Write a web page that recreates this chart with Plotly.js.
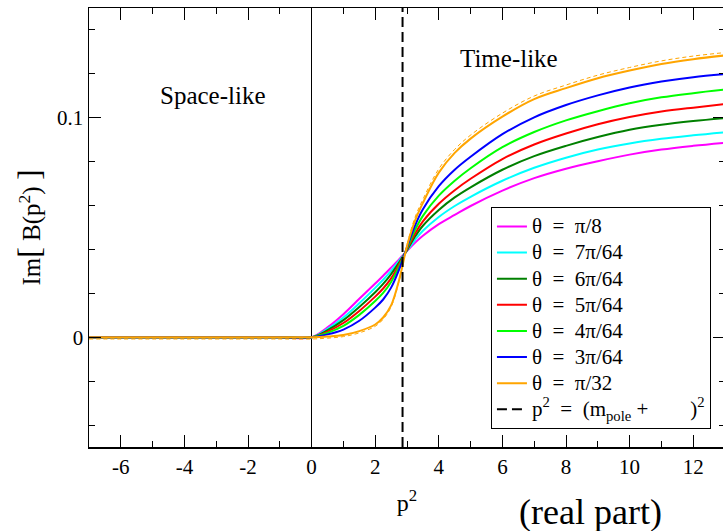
<!DOCTYPE html>
<html><head><meta charset="utf-8">
<script src="https://cdn.plot.ly/plotly-3.0.1.min.js"></script>
<style>html,body{margin:0;padding:0;overflow:hidden;background:#fff}#chart{width:730px;height:531px}</style>
</head><body><div id="chart"></div><script>
// p^2 (real part) sample points
const p2 = [-7, -1, 0, 0.5, 1, 1.5, 2, 2.25, 2.5, 2.75, 3, 3.25, 3.5, 4, 4.5, 5, 6, 7, 8, 9, 10, 11, 12, 13];
// Im[B(p^2)] for each theta
const thetaPi8   = [0,0,0,0.0045,0.0105,0.0175,0.0245,0.028,0.0317,0.0355,0.0393,0.043,0.0462,0.0515,0.0557,0.0598,0.0668,0.0725,0.0768,0.0802,0.0832,0.0855,0.0872,0.0886];
const theta7Pi64 = [0,0,0,0.0038,0.009,0.0155,0.0225,0.0262,0.0302,0.0348,0.0395,0.0443,0.0485,0.0548,0.0598,0.064,0.0713,0.0772,0.0818,0.0855,0.0883,0.0904,0.092,0.0934];
const theta6Pi64 = [0,0,0,0.0032,0.0078,0.0138,0.0205,0.0243,0.0288,0.034,0.0397,0.0458,0.0508,0.058,0.0637,0.0683,0.0763,0.0825,0.0872,0.0912,0.0945,0.0968,0.0985,0.0999];
const theta5Pi64 = [0,0,0,0.0026,0.0065,0.012,0.0185,0.0222,0.0268,0.0332,0.040,0.0472,0.0528,0.0608,0.067,0.0722,0.0812,0.0878,0.0928,0.097,0.1003,0.1028,0.1046,0.1062];
const theta4Pi64 = [0,0,0,0.002,0.0052,0.0102,0.0165,0.0202,0.0252,0.0322,0.0405,0.0488,0.0553,0.0645,0.0713,0.077,0.0866,0.0935,0.0988,0.103,0.1066,0.1093,0.1112,0.1128];
const theta3Pi64 = [0,0,0,0.0013,0.0035,0.0075,0.0135,0.0172,0.0226,0.0308,0.041,0.0508,0.0583,0.0688,0.0763,0.0822,0.0925,0.1002,0.1058,0.1102,0.1138,0.1165,0.1185,0.1199];
const thetaPi32  = [0,0,0,0.0003,0.001,0.0028,0.0058,0.009,0.0145,0.026,0.0415,0.053,0.0612,0.075,0.084,0.0905,0.1005,0.1085,0.1135,0.118,0.1215,0.1245,0.1267,0.1284];
const refDashed  = [-0.0008,-0.0008,-0.0008,-0.0004,0.0003,0.002,0.005,0.0082,0.0138,0.0255,0.0422,0.0545,0.0628,0.0767,0.0856,0.0921,0.1021,0.1099,0.1149,0.1194,0.1229,0.1259,0.1281,0.1297];
// pole position line
const poleX = [2.86, 2.86];
const poleY = [-0.05, 0.15];

const seriesNames  = ['θ  =  π/8','θ  =  7π/64','θ  =  6π/64','θ  =  5π/64','θ  =  4π/64','θ  =  3π/64','θ  =  π/32'];
const seriesValues = [thetaPi8, theta7Pi64, theta6Pi64, theta5Pi64, theta4Pi64, theta3Pi64, thetaPi32];
const seriesColors = ['#ff00ff','#00ffff','#008000','#ff0000','#00ff00','#0000ff','#ffa500'];
const poleName = 'p<sup>2</sup>  =  (m<sub>pole</sub> +        )<sup>2</sup>';

const xTickVals = [-6,-4,-2,0,2,4,6,8,10,12];
const xTickText = ['-6','-4','-2','0','2','4','6','8','10','12'];
const yTickVals = [0, 0.1];
const yTickText = ['0','0.1'];

const FONT = 'Liberation Serif';
const big = s => "<span style='font-family:Liberation Serif;font-size:21px'>" + s + "</span>";
const traces = seriesValues.map((v,i)=>({
  x: p2, y: v, type:'scatter', mode:'lines', name: big(seriesNames[i]),
  line:{color:seriesColors[i], width:2, shape:'spline', smoothing:1}
}));
traces.push({x:p2, y:refDashed, type:'scatter', mode:'lines', showlegend:false,
  line:{color:'#ffa500', width:1, dash:'4px,3px', shape:'spline', smoothing:1}});
traces.push({x:poleX, y:poleY, type:'scatter', mode:'lines',
  name: big(poleName),
  line:{color:'#000', width:2, dash:'10px,5px'}});

const layout = {
  width:730, height:531,
  margin:{l:89, r:5, t:8, b:84},
  paper_bgcolor:'#fff', plot_bgcolor:'#fff',
  font:{family:FONT, size:21, color:'#000'},
  showlegend:true,
  xaxis:{range:[-7,13], tickmode:'array', tickvals:xTickVals, ticktext:xTickText,
    ticks:'inside', ticklen:12, tickwidth:1, tickcolor:'#000',
    minor:{tickmode:'linear', tick0:0, dtick:1, ticks:'inside', ticklen:6, tickcolor:'#000', showgrid:false},
    showline:true, linecolor:'#000', linewidth:1.5, mirror:'ticks', showgrid:false,
    zeroline:true, zerolinecolor:'#000', zerolinewidth:1,
    tickfont:{family:FONT, size:21, color:'#000'},
    title:{text:'p<sup>2</sup>', font:{family:FONT, size:24, color:'#000'}, standoff:16}},
  yaxis:{range:[-0.05,0.15], tickmode:'array', tickvals:yTickVals, ticktext:yTickText,
    ticks:'inside', ticklen:12, tickwidth:1, tickcolor:'#000',
    minor:{tickmode:'linear', tick0:0, dtick:0.02, ticks:'inside', ticklen:6, tickcolor:'#000', showgrid:false},
    showline:true, linecolor:'#000', linewidth:1.5, mirror:'ticks', showgrid:false,
    zeroline:false, tickfont:{family:FONT, size:21, color:'#000'},
    title:{text:"Im<span style='font-size:32px'>[</span> B(p<sup>2</sup>) <span style='font-size:32px'>]</span>", font:{family:FONT, size:25, color:'#000'}, standoff:9}},
  legend:{x:0.632, y:0.546, xanchor:'left', yanchor:'top', bgcolor:'#fff',
    bordercolor:'#000', borderwidth:1, font:{family:FONT, size:17.8, color:'#000'}},
  annotations:[
    {x:-3.1, y:0.11, xref:'x', yref:'y', text:'Space-like', showarrow:false, font:{family:FONT, size:25, color:'#000'}},
    {x:6.22, y:0.127, xref:'x', yref:'y', text:'Time-like', showarrow:false, font:{family:FONT, size:25, color:'#000'}},
    {x:0.788, y:-0.148, xref:'paper', yref:'paper', xanchor:'center', yanchor:'middle', text:'(real part)', showarrow:false, font:{family:FONT, size:36, color:'#000'}}
  ]
};
Plotly.newPlot('chart', traces, layout, {displayModeBar:false, staticPlot:true});
</script></body></html>
